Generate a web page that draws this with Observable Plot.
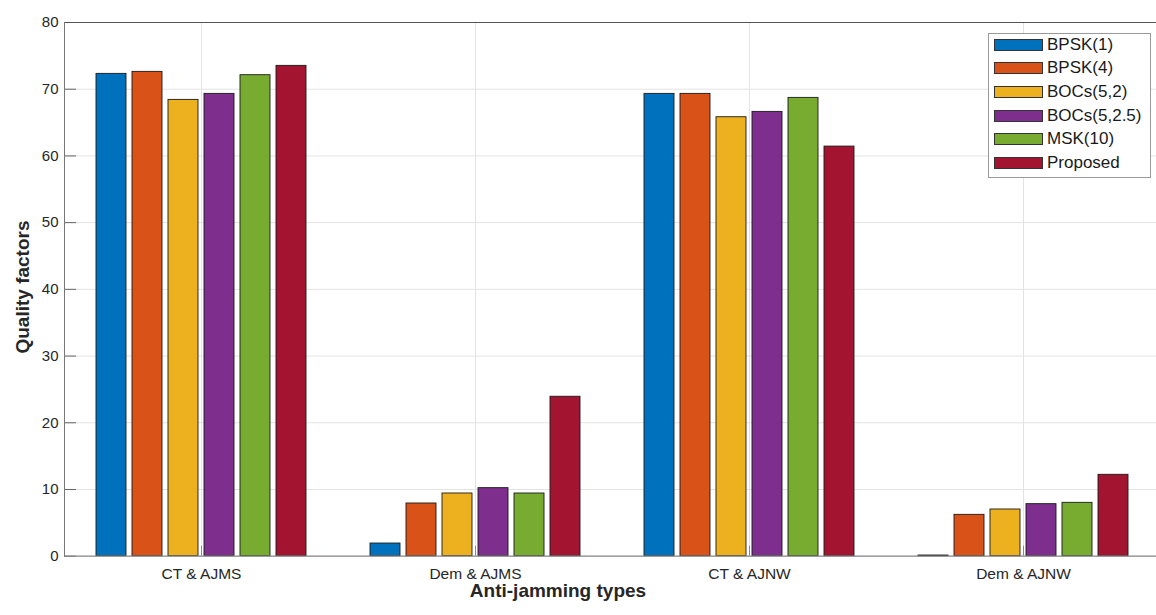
<!DOCTYPE html>
<html><head><meta charset="utf-8">
<script src="https://cdn.jsdelivr.net/npm/d3@7"></script>
<script src="https://cdn.jsdelivr.net/npm/@observablehq/plot@0.6"></script>
<style>
html,body{margin:0;padding:0;overflow:hidden;background:#fff;}
#wrap{position:relative;width:1156px;height:615px;overflow:hidden;font-family:"Liberation Sans",Arial,Helvetica,sans-serif;}
#chart{position:absolute;left:0;top:0;width:1170px;height:615px;}
#chart svg{max-width:none !important;}
.ttl{position:absolute;font-weight:bold;font-size:19px;color:#262626;white-space:nowrap;}
#xt{left:558px;top:591px;transform:translate(-50%,-50%);}
#yt{left:23px;top:287px;transform:translate(-50%,-50%) rotate(-90deg);}
#legend{position:absolute;left:988px;top:33px;width:163px;height:145px;border:1px solid #9a9a9a;background:#fff;box-sizing:border-box;}
.row{position:absolute;left:5px;height:24px;display:flex;align-items:center;font-size:17px;color:#1a1a1a;}
.sw{width:47px;height:10px;border:1px solid #333;margin-right:4px;}
</style></head><body><div id="wrap"><div id="chart"></div><div class="ttl" id="xt">Anti-jamming types</div><div class="ttl" id="yt">Quality factors</div><div id="legend"></div></div>
<script>
const categories = ["CT & AJMS", "Dem & AJMS", "CT & AJNW", "Dem & AJNW"];
const series = ["BPSK(1)", "BPSK(4)", "BOCs(5,2)", "BOCs(5,2.5)", "MSK(10)", "Proposed"];
const colors = ["#0072BD", "#D95319", "#EDB120", "#7E2F8E", "#77AC30", "#A2142F"];
const bpsk1 = [72.3, 1.9, 69.3, 0.1];
const bpsk4 = [72.6, 7.9, 69.3, 6.2];
const bocs52 = [68.4, 9.4, 65.8, 7.0];
const bocs525 = [69.3, 10.2, 66.6, 7.8];
const msk10 = [72.1, 9.4, 68.7, 8.0];
const proposed = [73.5, 23.9, 61.4, 12.2];
const yTicks = [0, 10, 20, 30, 40, 50, 60, 70, 80];

const seriesValues = [bpsk1, bpsk4, bocs52, bocs525, msk10, proposed];
const data = [];
categories.forEach((c, ci) => {
  series.forEach((s, si) => data.push({category: c, series: s, value: seriesValues[si][ci]}));
});

const chart = Plot.plot({
  width: 1170, height: 615,
  marginLeft: 62, marginRight: 8.5, marginTop: 22, marginBottom: 59.3,
  style: {fontFamily: '"Liberation Sans", Arial, Helvetica, sans-serif', fontSize: "15px", color: "#262626", background: "white", overflow: "visible", maxWidth: "none"},
  fx: {domain: categories, padding: 0, label: null},
  x: {domain: series, paddingInner: 0.18, paddingOuter: 0.845, axis: null},
  y: {domain: [0, 80], label: null},
  color: {domain: series, range: colors},
  marks: [
    Plot.gridY(yTicks, {stroke: "#e3e3e3", strokeOpacity: 1}),
    Plot.gridFx({stroke: "#e3e3e3", strokeOpacity: 1}),
    Plot.barY(data, {fx: "category", x: "series", y: "value", fill: "series", stroke: "#1a1a1a", strokeWidth: 0.9}),
    Plot.axisY(yTicks, {tickSize: -12, tickPadding: 18, fontSize: 15, stroke: "#666", label: null}),
    Plot.axisFx({anchor: "bottom", tickSize: -10, tickPadding: 22, fontSize: 15.5, stroke: "#888", label: null}),
    Plot.ruleY([0], {stroke: "#8a8a8a", strokeWidth: 1.2}),
    Plot.ruleY([80], {stroke: "#555", strokeWidth: 1}),
    Plot.frame({anchor: "left", facetAnchor: "left", stroke: "#777"}),
    Plot.frame({anchor: "right", facetAnchor: "right", stroke: "#555"})
  ]
});
document.getElementById("chart").appendChild(chart);

const legend = document.getElementById("legend");
series.forEach((s, i) => {
  const row = document.createElement("div");
  row.className = "row";
  row.style.top = (-1.5 + i * 23.7) + "px";
  const sw = document.createElement("div");
  sw.className = "sw";
  sw.style.background = colors[i];
  row.appendChild(sw);
  const t = document.createElement("span");
  t.textContent = s;
  row.appendChild(t);
  legend.appendChild(row);
});
</script></body></html>
